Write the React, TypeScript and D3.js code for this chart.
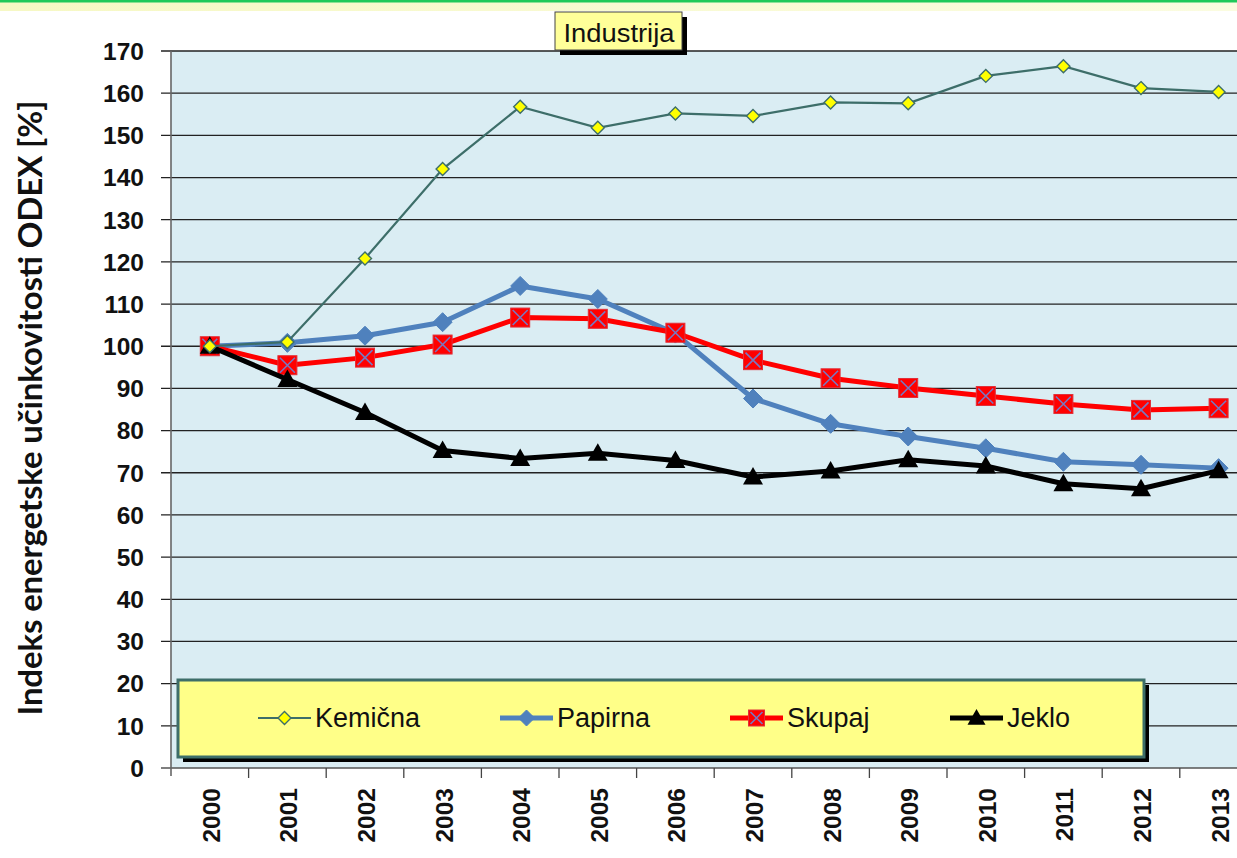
import React, { useEffect, useRef } from "react";
import * as d3 from "d3";

// ODEX index by industry branch, 2000 = 100
const years = ["2000", "2001", "2002", "2003", "2004", "2005", "2006", "2007", "2008", "2009", "2010", "2011", "2012", "2013"];
const kemicna = [100, 101, 120.8, 142, 156.8, 151.8, 155.2, 154.6, 157.8, 157.6, 164.1, 166.4, 161.2, 160.3];
const papirna = [100, 100.8, 102.5, 105.7, 114.3, 111.2, 103, 87.6, 81.6, 78.6, 75.8, 72.6, 71.9, 71.1];
const skupaj = [100, 95.5, 97.3, 100.4, 106.8, 106.5, 103.2, 96.7, 92.4, 90.1, 88.2, 86.3, 84.9, 85.3];
const jeklo = [100, 92.1, 84.3, 75.3, 73.4, 74.6, 72.9, 69, 70.4, 73.1, 71.6, 67.4, 66.2, 70.5];
const yTicks = d3.range(0, 171, 10);

const W = 1237;
const H = 858;
const ARIAL = "'Liberation Sans', Arial, sans-serif";

const App = () => {
  const svgRef = useRef<SVGSVGElement>(null);

  useEffect(() => {
    const svg = d3.select(svgRef.current);
    svg.selectAll("*").remove();

    const left = 171;
    const step = 77.6;
    const right = left + step * years.length;
    const top = 51;
    const bottom = 768;

    const x = d3.scaleBand().domain(years).range([left, right]);
    const y = d3.scaleLinear().domain([0, 170]).range([bottom, top]);
    const cx = (i: number) => x(years[i])! + x.bandwidth() / 2;

    // top decoration
    const grad = svg.append("defs").append("linearGradient").attr("id", "band");
    grad.append("stop").attr("offset", "0%").attr("stop-color", "#f6f8c4");
    grad.append("stop").attr("offset", "100%").attr("stop-color", "#fbfce0");
    svg.append("rect").attr("x", 0).attr("y", 2).attr("width", W).attr("height", 9).attr("fill", "url(#band)");
    svg.append("rect").attr("x", 0).attr("y", 0).attr("width", W).attr("height", 2.5).attr("fill", "#1fc95a");

    // plot area
    svg.append("rect")
      .attr("x", left).attr("y", top)
      .attr("width", right - left).attr("height", bottom - top)
      .attr("fill", "#daedf3");

    const grid = svg.append("g");
    yTicks.forEach(t => {
      grid.append("line")
        .attr("x1", left - 10).attr("x2", right)
        .attr("y1", y(t)).attr("y2", y(t))
        .attr("stroke", t === 0 ? "#555" : "#222").attr("stroke-width", 1.3);
      grid.append("text")
        .attr("x", 144).attr("y", y(t)).attr("dy", "0.36em")
        .attr("text-anchor", "end")
        .style("font-family", ARIAL)
        .style("font-weight", "bold").style("font-size", "24.5px")
        .attr("fill", "#111")
        .text(t);
    });

    svg.append("line")
      .attr("x1", left).attr("x2", left).attr("y1", top).attr("y2", bottom + 8)
      .attr("stroke", "#666").attr("stroke-width", 1.6);

    // x ticks and labels
    years.forEach((yr, i) => {
      const bx = x(yr)! + x.bandwidth();
      svg.append("line")
        .attr("x1", bx).attr("x2", bx).attr("y1", bottom).attr("y2", bottom + 10)
        .attr("stroke", "#444").attr("stroke-width", 1.3);
      svg.append("text")
        .attr("transform", `translate(${cx(i) + 10},788) rotate(-90)`)
        .attr("text-anchor", "end")
        .style("font-family", ARIAL)
        .style("font-weight", "bold").style("font-size", "24.5px")
        .attr("fill", "#111")
        .text(yr);
    });

    // y axis title
    svg.append("text")
      .attr("transform", `translate(42,408) rotate(-90)`)
      .attr("text-anchor", "middle")
      .attr("textLength", 615).attr("lengthAdjust", "spacing")
      .style("font-family", "Lato, 'Open Sans', sans-serif")
      .style("font-weight", "bold").style("font-size", "33px")
      .attr("fill", "#111")
      .text("Indeks energetske učinkovitosti ODEX [%]");

    const line = d3.line<number>().x((d, i) => cx(i)).y(d => y(d));

    const diamond = (g: any, px: number, py: number, r: number, fill: string, stroke: string, sw: number) =>
      g.append("path")
        .attr("d", `M${px},${py - r}L${px + r},${py}L${px},${py + r}L${px - r},${py}Z`)
        .attr("fill", fill).attr("stroke", stroke).attr("stroke-width", sw);
    const square = (g: any, px: number, py: number, r: number) => {
      g.append("rect").attr("x", px - r).attr("y", py - r).attr("width", 2 * r).attr("height", 2 * r)
        .attr("fill", "#ff0000").attr("stroke", "#e0303a").attr("stroke-width", 1);
      g.append("path")
        .attr("d", `M${px - r + 2},${py - r + 2}L${px + r - 2},${py + r - 2}M${px + r - 2},${py - r + 2}L${px - r + 2},${py + r - 2}`)
        .attr("stroke", "#7878c0").attr("stroke-width", 1.6);
    };
    const triangle = (g: any, px: number, py: number, r: number) =>
      g.append("path")
        .attr("d", `M${px},${py - r}L${px + r},${py + r * 0.75}L${px - r},${py + r * 0.75}Z`)
        .attr("fill", "#000");

    const plot = svg.append("g");

    // Papirna
    plot.append("path").datum(papirna).attr("d", line)
      .attr("fill", "none").attr("stroke", "#4f81bd").attr("stroke-width", 5).attr("stroke-linejoin", "round");
    papirna.forEach((v, i) => diamond(plot, cx(i), y(v), 9.5, "#4f81bd", "#4f81bd", 1));

    // Skupaj
    plot.append("path").datum(skupaj).attr("d", line)
      .attr("fill", "none").attr("stroke", "#ff0000").attr("stroke-width", 5).attr("stroke-linejoin", "round");
    skupaj.forEach((v, i) => square(plot, cx(i), y(v), 9.5));

    // Jeklo
    plot.append("path").datum(jeklo).attr("d", line)
      .attr("fill", "none").attr("stroke", "#000").attr("stroke-width", 5).attr("stroke-linejoin", "round");
    jeklo.forEach((v, i) => triangle(plot, cx(i), y(v), 10));

    // Kemicna
    plot.append("path").datum(kemicna).attr("d", line)
      .attr("fill", "none").attr("stroke", "#3d6e69").attr("stroke-width", 2.2);
    kemicna.forEach((v, i) => diamond(plot, cx(i), y(v), 6.5, "#ffff00", "#3d6e69", 1.4));

    // title box
    svg.append("rect").attr("x", 560).attr("y", 17).attr("width", 127).attr("height", 38).attr("fill", "#000");
    svg.append("rect").attr("x", 555).attr("y", 12).attr("width", 127).attr("height", 38)
      .attr("fill", "#ffff99").attr("stroke", "#444").attr("stroke-width", 1);
    svg.append("text").attr("x", 619).attr("y", 42).attr("text-anchor", "middle")
      .attr("textLength", 111).attr("lengthAdjust", "spacingAndGlyphs")
      .style("font-family", ARIAL).style("font-size", "25px")
      .attr("fill", "#111").text("Industrija");

    // legend
    const lg = svg.append("g");
    lg.append("rect").attr("x", 183).attr("y", 685).attr("width", 966).attr("height", 77).attr("fill", "#000");
    lg.append("rect").attr("x", 178).attr("y", 680).attr("width", 966).attr("height", 77)
      .attr("fill", "#ffff88").attr("stroke", "#3d6e69").attr("stroke-width", 3);
    const ly = 718;
    const items = [
      { name: "Kemična", x0: 258, color: "#3d6e69", w: 2.2 },
      { name: "Papirna", x0: 500, color: "#4f81bd", w: 5 },
      { name: "Skupaj", x0: 730, color: "#ff0000", w: 5 },
      { name: "Jeklo", x0: 950, color: "#000", w: 5 },
    ];
    items.forEach((it, k) => {
      lg.append("line").attr("x1", it.x0).attr("x2", it.x0 + 53).attr("y1", ly).attr("y2", ly)
        .attr("stroke", it.color).attr("stroke-width", it.w);
      const mx = it.x0 + 26.5;
      if (k === 0) diamond(lg, mx, ly, 6.5, "#ffff00", "#3d6e69", 1.4);
      if (k === 1) diamond(lg, mx, ly, 8, "#4f81bd", "#4f81bd", 1);
      if (k === 2) square(lg, mx, ly, 8);
      if (k === 3) triangle(lg, mx, ly, 9);
      lg.append("text").attr("x", it.x0 + 57).attr("y", ly + 9)
        .style("font-family", ARIAL).style("font-size", "27px")
        .attr("fill", "#111").text(it.name);
    });
  }, []);

  return (
    <svg ref={svgRef} width={W} height={H}
      style={{ position: "absolute", left: 0, top: 0, display: "block", background: "#fff" }} />
  );
};

export default App;
